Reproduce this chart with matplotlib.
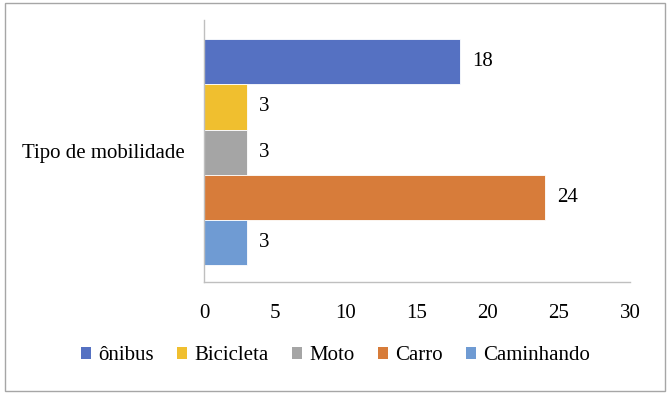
import matplotlib
matplotlib.use("Agg")
import matplotlib.pyplot as plt
from matplotlib.patches import Rectangle, Patch

categories = ["Tipo de mobilidade"]
series = ["ônibus", "Bicicleta", "Moto", "Carro", "Caminhando"]
values = [18, 3, 3, 24, 3]
colors = ["#5571C2", "#F0BF2F", "#A5A5A5", "#D77C3A", "#6F9BD3"]
xticks = [0, 5, 10, 15, 20, 25, 30]

plt.rcParams['font.family'] = ['Liberation Serif', 'DejaVu Serif']
FS = 15

W, H = 671, 395
fig = plt.figure(figsize=(W/100, H/100), dpi=100)
ax = fig.add_axes([204/W, 1-282/H, (630-204)/W, (282-20)/H])

n = len(series)
group = 0.86
bh = group / n
for i, (s, v, c) in enumerate(zip(series, values, colors)):
    y = -group/2 + bh*(i+0.5) + 0.004
    ax.barh(y, v, height=bh, color=c, edgecolor="white", linewidth=0.6, label=s)
    ax.text(v + 0.9, y, str(v), va="center", ha="left", fontsize=FS, color="#000000")

ax.set_ylim(0.5, -0.5)
ax.set_xlim(0, 30)
ax.set_xticks(xticks)
ax.set_xticklabels([str(t) for t in xticks], fontsize=FS)
ax.set_yticks([0])
ax.set_yticklabels(categories, fontsize=FS)
ax.tick_params(axis="both", length=0)
ax.tick_params(axis="y", pad=13.7)
ax.tick_params(axis="x", pad=15.5)
for sp in ["top", "right"]:
    ax.spines[sp].set_visible(False)
for sp in ["left", "bottom"]:
    ax.spines[sp].set_color("#BFBFBF")
    ax.spines[sp].set_linewidth(1)

handles = [Patch(facecolor=c, edgecolor="none", label=s) for s, c in zip(series, colors)]
fig.legend(handles=handles, loc="center", bbox_to_anchor=(0.5, 1-356/H), ncol=5,
           frameon=False, fontsize=FS, handlelength=0.5, handleheight=0.5,
           handletextpad=0.35, columnspacing=1.1)

fig.patches.append(Rectangle((5/W, 1-391/H), (665-5)/W, (391-3)/H, transform=fig.transFigure,
                             fill=False, edgecolor="#A6A6A6", linewidth=1))

fig.savefig("out.png", dpi=100)
